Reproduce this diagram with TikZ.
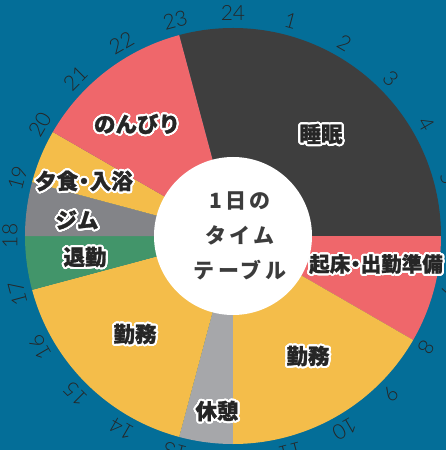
\documentclass[tikz,border=0pt]{standalone}
\usepackage{fontspec}
\usepackage{contour}
\contourlength{2pt}
\contournumber{32}
\newfontfamily\jp{Noto Sans CJK JP}
\newfontfamily\jplab{Noto Sans CJK JP}[FakeBold=1.2]
\IfFontExistsTF{Lato Light}{\newfontfamily\numfont{Lato Light}}{\newfontfamily\numfont{Liberation Sans}}
\definecolor{bgblue}{HTML}{046E98}
\definecolor{sleepc}{HTML}{3E3E3E}
\definecolor{redc}{HTML}{EF676B}
\definecolor{yelc}{HTML}{F4BD4A}
\definecolor{gymc}{HTML}{838488}
\definecolor{grnc}{HTML}{42956A}
\definecolor{brkc}{HTML}{A6A7AA}
\definecolor{labc}{HTML}{262626}
\definecolor{ctrc}{HTML}{3C3C3C}
\newcommand\piesector[3]{\fill[#1] (0,0) -- ({90-15*#2}:208pt) arc[start angle={90-15*#2}, end angle={90-15*#3}, radius=208pt] -- cycle;}
\newcommand\middot{\kern-5pt・\kern-5pt}
\tikzset{
  lab/.style={font=\jplab\bfseries\fontsize{21.5}{23}\selectfont, text=labc, inner sep=0pt},
  hourlab/.style={font=\numfont\fontsize{21}{22}\selectfont, text=labc, inner sep=0pt},
  ctr/.style={font=\jp\bfseries\fontsize{21}{35}\selectfont, text=ctrc, align=center, inner sep=0pt}
}
\begin{document}
\begin{tikzpicture}[x=1pt,y=1pt]
\useasboundingbox (-233,-214) rectangle (213,236);
\clip (-233,-214) rectangle (213,236);
\fill[bgblue] (-233,-214) rectangle (213,236);
\piesector{sleepc}{23}{30}
\piesector{redc}{6}{8}
\piesector{yelc}{8}{12}
\piesector{brkc}{12}{13}
\piesector{yelc}{13}{17}
\piesector{grnc}{17}{18}
\piesector{gymc}{18}{19}
\piesector{yelc}{19}{20}
\piesector{redc}{20}{23}
\fill[white] (0,0) circle[radius=79pt];
\foreach \h in {1,...,24}{
  \node[hourlab, rotate={-15*\h}] (h\h) at ({90-15*\h}:223pt) {\h};
}
\node[lab] (sleep) at (88,101) {\contour{white}{睡眠}};
\node[lab] (relax) at (-96,111) {\contour{white}{のんびり}};
\node[lab] (dinner) at (-149,54) {\contour{white}{夕食\middot 入浴}};
\node[lab] (gym) at (-156,15) {\contour{white}{ジム}};
\node[lab] (leave) at (-148,-22) {\contour{white}{退勤}};
\node[lab] (workpm) at (-98,-99) {\contour{white}{勤務}};
\node[lab] (rest) at (-16,-176) {\contour{white}{休憩}};
\node[lab] (workam) at (75,-121) {\contour{white}{勤務}};
\node[lab, font=\jplab\bfseries\fontsize{20.5}{22}\selectfont] (wake) at (143,-29) {\contour{white}{起床\middot 出勤準備}};
\node[ctr] (title) at (7,0) {\addfontfeature{LetterSpace=15}1日の\\\addfontfeature{LetterSpace=15}タイム\\\addfontfeature{LetterSpace=15}テーブル};
\end{tikzpicture}
\end{document}
